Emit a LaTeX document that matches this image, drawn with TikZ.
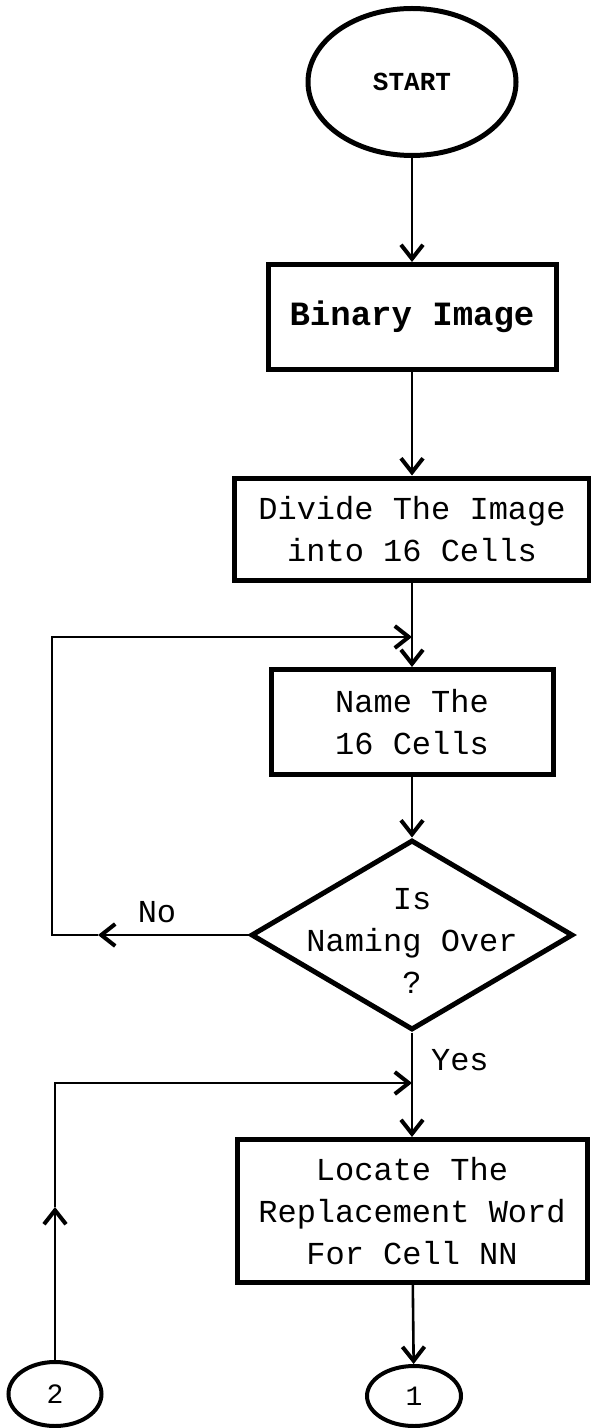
\documentclass[tikz,border=0pt]{standalone}
\usepackage{fontspec}
\newfontfamily\dotfont{Liberation Mono}
\usetikzlibrary{arrows.meta,shapes.geometric}

\begin{document}
\begin{tikzpicture}[
  x=0.5pt,y=-0.5pt,
  font=\dotfont\fontsize{16}{21}\selectfont,
  proc/.style={draw,line width=2.5pt,align=center,inner sep=0pt},
  term/.style={draw,ellipse,line width=2.5pt,inner sep=0pt},
  conn/.style={draw,ellipse,line width=2pt,inner sep=0pt,font=\dotfont\fontsize{14}{16}\selectfont},
  flow/.style={line width=1.3pt,-{Straight Barb[length=7pt,width=11pt,line width=2pt]}},
  wire/.style={line width=1.3pt}]

  \useasboundingbox (0,0) rectangle (590,1428);

  % main column
  \node[term,minimum width=104pt,minimum height=73.5pt,font=\dotfont\bfseries\fontsize{13}{16}\selectfont] (start) at (412,82) {START};
  \node[proc,minimum width=144pt,minimum height=52.5pt,font=\dotfont\bfseries\fontsize{17}{21}\selectfont] (binary) at (412,317) {Binary Image};
  \node[proc,minimum width=177.5pt,minimum height=51pt] (divide) at (412,529) {Divide The Image\\into 16 Cells};
  \node[proc,minimum width=141pt,minimum height=52.5pt] (name) at (412,722) {Name The\\16 Cells};
  \node[draw,diamond,line width=2.5pt,inner sep=0pt,minimum width=161pt,minimum height=95pt] (check) at (412,935) {};
  \node[align=center] (checktxt) at (412,941) {Is\\Naming Over\\?};
  \node[proc,minimum width=175pt,minimum height=71.5pt] (locate) at (412,1211) {Locate The\\Replacement Word\\For Cell NN};
  \node[conn,minimum width=47pt,minimum height=30pt] (c1) at (414,1396) {1};
  \node[conn,minimum width=46.5pt,minimum height=32pt] (c2) at (55,1394) {2};

  \draw[flow] (start) -- (binary);
  \draw[flow] (binary) -- (divide);
  \draw[flow] (divide) -- (name);
  \draw[flow] (name) -- (check);
  \draw[flow] (check) -- (locate);
  \draw[flow] (locate) -- (c1);

  % No loop back
  \coordinate (notip) at (98,935);
  \coordinate (noback) at (52,935);
  \coordinate (nojoin) at (412,637);
  \draw[flow] (check.west) -- (notip);
  \draw[flow] (notip) -- (noback) |- (nojoin);
  \node[anchor=base] (nolbl) at (157,922) {No};

  % entry from connector 2
  \coordinate (uptip) at (55,1207);
  \coordinate (yesback) at (55,1083);
  \coordinate (yesjoin) at (412,1083);
  \draw[flow] (c2) -- (uptip);
  \draw[flow] (uptip) -- (yesback) -- (yesjoin);
  \node[anchor=base west] (yeslbl) at (424,1070) {Yes};
\end{tikzpicture}
\end{document}
